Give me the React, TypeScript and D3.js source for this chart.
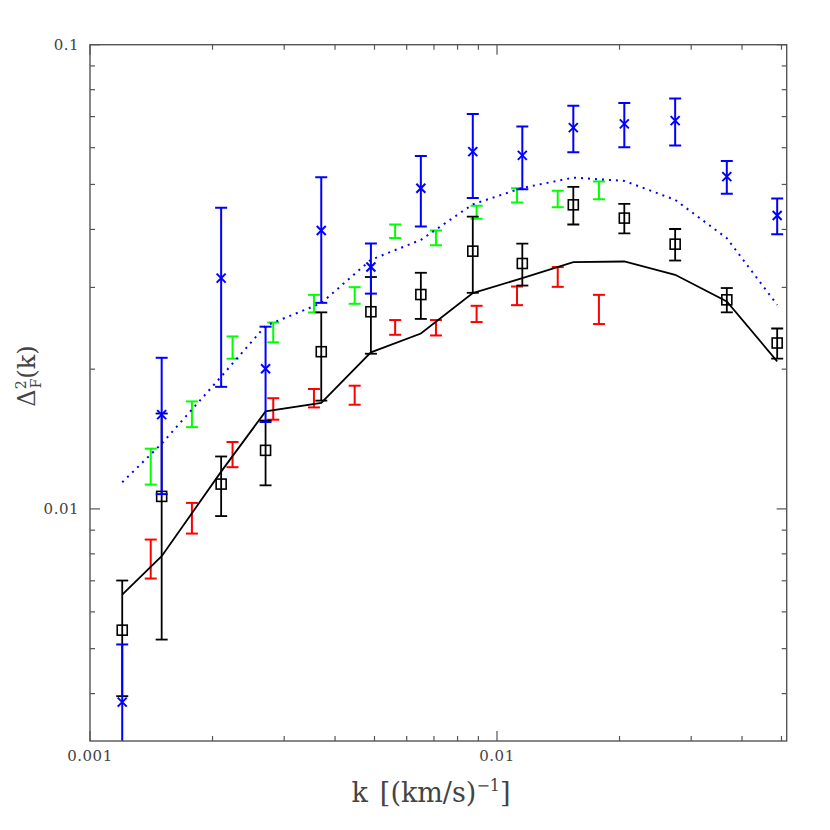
import React from 'react';
import * as d3 from 'd3';

// k values for the simulated / model series (black squares, blue crosses, curves)
const kModel = [0.0012, 0.0015, 0.0021, 0.0027, 0.0037, 0.0049, 0.0065, 0.00872, 0.01154, 0.0154, 0.02055, 0.0274, 0.0367, 0.0488];
// black open squares with error bars
const squareVals = [0.00548, 0.01064, 0.01131, 0.01337, 0.02181, 0.02659, 0.02896, 0.03591, 0.03378, 0.04519, 0.04231, 0.03718, 0.02821, 0.02277];
const squareErrs = [0.00153, 0.00541, 0.00166, 0.00213, 0.0047, 0.005, 0.0033, 0.0067, 0.0035, 0.0042, 0.0031, 0.0029, 0.0017, 0.0017];
// blue crosses with error bars
const crossVals = [0.003835, 0.01596, 0.03142, 0.02004, 0.03979, 0.03319, 0.04908, 0.05884, 0.05775, 0.06628, 0.06751, 0.06862, 0.05197, 0.04285];
const crossErrs = [0.00127, 0.0052, 0.0131, 0.00465, 0.012, 0.0041, 0.0085, 0.0121, 0.0089, 0.0076, 0.0074, 0.008, 0.0042, 0.0038];
// black solid curve
const solidCurve = [0.006539, 0.007907, 0.01203, 0.01622, 0.01691, 0.02174, 0.02387, 0.02916, 0.03142, 0.03402, 0.03412, 0.03194, 0.02797, 0.02079];
// blue dotted curve
const dottedCurve = [0.01141, 0.01382, 0.01927, 0.0248, 0.02775, 0.03441, 0.03798, 0.0453, 0.04915, 0.05172, 0.05089, 0.04632, 0.0383, 0.02752];

// k bins for the red and green observational error bars
const kBins = [0.00141, 0.00178, 0.00224, 0.00282, 0.00355, 0.00447, 0.00562, 0.00708, 0.00891, 0.0112, 0.0141, 0.0178];
const redVals = [0.007834, 0.009575, 0.013117, 0.016441, 0.017334, 0.017594, 0.024618, 0.024577, 0.026324, 0.028805, 0.031636, 0.026965];
const redErrs = [0.000755, 0.000727, 0.000818, 0.000875, 0.00079, 0.00083, 0.0009, 0.00094, 0.00106, 0.00133, 0.00155, 0.00195];
const greenVals = [0.012381, 0.016021, 0.022294, 0.024027, 0.027708, 0.028849, 0.039675, 0.038393, 0.043561, 0.047393, 0.046552, 0.048595];
const greenErrs = [0.0011, 0.00102, 0.00123, 0.00118, 0.00121, 0.00119, 0.00132, 0.0014, 0.0014, 0.00169, 0.00188, 0.00212];

const xMajorTicks = [0.001, 0.01];
const xTickLabels = ['0.001', '0.01'];
const xMinorTicks = [0.002, 0.003, 0.004, 0.005, 0.006, 0.007, 0.008, 0.009, 0.02, 0.03, 0.04, 0.05];
const yMajorTicks = [0.01, 0.1];
const yTickLabels = ['0.01', '0.1'];
const yMinorTicks = [0.004, 0.005, 0.006, 0.007, 0.008, 0.009, 0.02, 0.03, 0.04, 0.05, 0.06, 0.07, 0.08, 0.09];

const W = 830;
const H = 830;
const left = 90;
const right = 786.7;
const top = 44.7;
const bottom = 741;

export default function App() {
  const x = d3.scaleLog().domain([0.001, 0.0515]).range([left, right]);
  const y = d3.scaleLog().domain([Math.pow(10, -2.5), 0.1]).range([bottom, top]);
  const axisColor = '#555';
  const textColor = '#444';
  const font = '"DejaVu Serif", serif';

  const solidPath = d3.line<number>().x((_, i) => x(kModel[i])).y((d) => y(d))(solidCurve) || '';
  const dottedPath = d3.line<number>().x((_, i) => x(kModel[i])).y((d) => y(d))(dottedCurve) || '';

  const errBar = (k: number, v: number, e: number, color: string, cap: number, sw: number, key: string) => {
    const cx = x(k);
    const lo = v - e;
    const yTop = y(v + e);
    const yBot = lo > 0 ? y(lo) : bottom + 50;
    return (
      <g key={key} stroke={color} strokeWidth={sw} fill="none">
        <line x1={cx} x2={cx} y1={yTop} y2={yBot} />
        <line x1={cx - cap} x2={cx + cap} y1={yTop} y2={yTop} />
        <line x1={cx - cap} x2={cx + cap} y1={yBot} y2={yBot} />
      </g>
    );
  };

  return (
    <svg width={W} height={H} style={{ position: 'absolute', left: 0, top: 0, background: '#fff' }}>
      <defs>
        <clipPath id="plotClip">
          <rect x={left} y={top} width={right - left} height={bottom - top} />
        </clipPath>
      </defs>
      <rect x={0} y={0} width={W} height={H} fill="#fff" />
      <g clipPath="url(#plotClip)">
        {greenVals.map((v, i) => errBar(kBins[i], v, greenErrs[i], '#00ff00', 6, 2, 'g' + i))}
        {redVals.map((v, i) => errBar(kBins[i], v, redErrs[i], '#ff0000', 6, 2, 'r' + i))}
        <path d={solidPath} fill="none" stroke="#000" strokeWidth={1.8} />
        <path d={dottedPath} fill="none" stroke="#0000ff" strokeWidth={2} strokeDasharray="2 5" />
        {squareVals.map((v, i) => errBar(kModel[i], v, squareErrs[i], '#000', 6, 1.8, 'b' + i))}
        {squareVals.map((v, i) => (
          <rect key={'s' + i} x={x(kModel[i]) - 5} y={y(v) - 5} width={10} height={10} fill="none" stroke="#000" strokeWidth={1.6} />
        ))}
        {crossVals.map((v, i) => errBar(kModel[i], v, crossErrs[i], '#0000ff', 6, 2, 'c' + i))}
        {crossVals.map((v, i) => {
          const cx = x(kModel[i]);
          const cy = y(v);
          const s = 4.5;
          return (
            <g key={'x' + i} stroke="#0000ff" strokeWidth={2}>
              <line x1={cx - s} x2={cx + s} y1={cy - s} y2={cy + s} />
              <line x1={cx - s} x2={cx + s} y1={cy + s} y2={cy - s} />
            </g>
          );
        })}
      </g>
      {/* frame */}
      <rect x={left} y={top} width={right - left} height={bottom - top} fill="none" stroke={axisColor} strokeWidth={1.4} />
      {/* x ticks */}
      {xMajorTicks.map((t, i) => (
        <g key={'xm' + i} stroke={axisColor} strokeWidth={1.2}>
          <line x1={x(t)} x2={x(t)} y1={bottom} y2={bottom - 10} />
          <line x1={x(t)} x2={x(t)} y1={top} y2={top + 10} />
        </g>
      ))}
      {xMinorTicks.map((t, i) => (
        <g key={'xn' + i} stroke={axisColor} strokeWidth={1.2}>
          <line x1={x(t)} x2={x(t)} y1={bottom} y2={bottom - 5} />
          <line x1={x(t)} x2={x(t)} y1={top} y2={top + 5} />
        </g>
      ))}
      {yMajorTicks.map((t, i) => (
        <g key={'ym' + i} stroke={axisColor} strokeWidth={1.2}>
          <line x1={left} x2={left + 10} y1={y(t)} y2={y(t)} />
          <line x1={right} x2={right - 10} y1={y(t)} y2={y(t)} />
        </g>
      ))}
      {yMinorTicks.map((t, i) => (
        <g key={'yn' + i} stroke={axisColor} strokeWidth={1.2}>
          <line x1={left} x2={left + 5} y1={y(t)} y2={y(t)} />
          <line x1={right} x2={right - 5} y1={y(t)} y2={y(t)} />
        </g>
      ))}
      {/* tick labels */}
      {xMajorTicks.map((t, i) => (
        <text key={'xl' + i} x={x(t)} y={761} textAnchor="middle" fontFamily={font} fontSize={15} letterSpacing={0.5} fill={textColor}>
          {xTickLabels[i]}
        </text>
      ))}
      {yMajorTicks.map((t, i) => (
        <text key={'yl' + i} x={79} y={y(t) + 5} textAnchor="end" fontFamily={font} fontSize={15} letterSpacing={0.5} fill={textColor}>
          {yTickLabels[i]}
        </text>
      ))}
      {/* axis titles */}
      <text x={431} y={802} textAnchor="middle" fontFamily={font} fontSize={27} fill={textColor}>
        k<tspan dx={12}>[(km/s)</tspan><tspan dy={-11} fontSize={16}>−1</tspan><tspan dy={11}>]</tspan>
      </text>
      <text transform={`translate(35, 376) rotate(-90)`} textAnchor="middle" fontFamily={font} fontSize={24} fill={textColor}>
        Δ<tspan dy={-9} fontSize={14}>2</tspan><tspan dx={-8} dy={15} fontSize={14}>F</tspan><tspan dy={-6}>(k)</tspan>
      </text>
    </svg>
  );
}
